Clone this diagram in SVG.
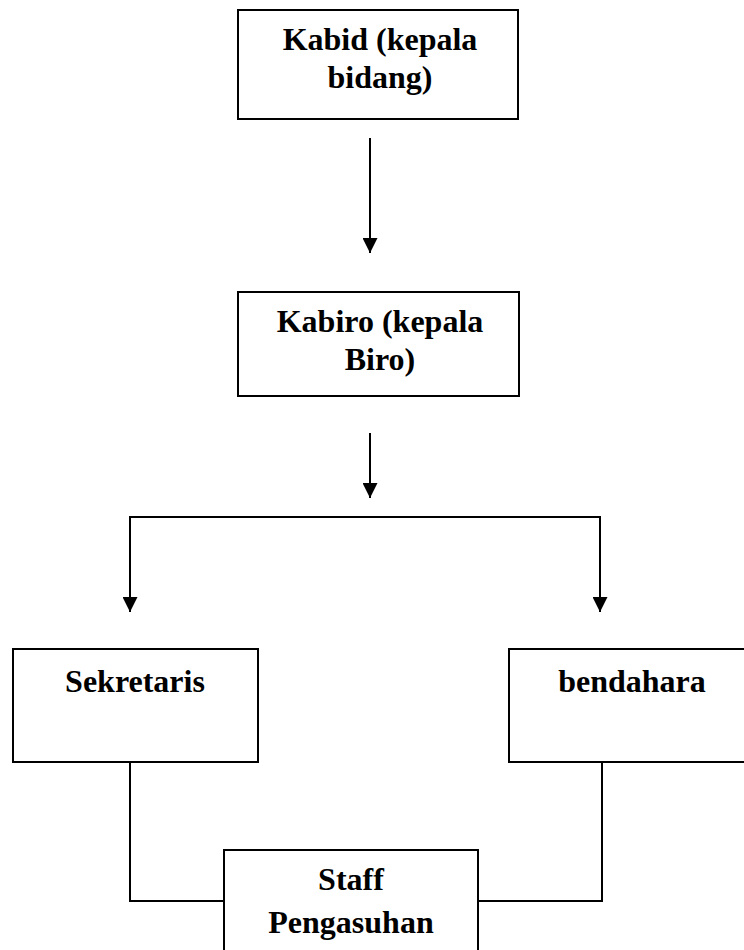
<svg xmlns="http://www.w3.org/2000/svg" width="744" height="950" viewBox="0 0 744 950">
<style>
.box{fill:#fff;stroke:#000;stroke-width:2}
.lbl{font-family:"Liberation Serif","Times New Roman",serif;font-weight:bold;font-size:32px;fill:#000;text-anchor:middle}
.con{fill:none;stroke:#000;stroke-width:2}
</style>
<defs>
<marker id="ah" markerUnits="userSpaceOnUse" markerWidth="15" markerHeight="15" viewBox="0 0 15 15" refX="15" refY="7.5" orient="auto">
<path d="M0,0 L15,7.5 L0,15 z" fill="#000"/>
</marker>
</defs>
<rect width="744" height="950" fill="#fff"/>
<g id="connectors">
<line class="con" x1="370" y1="138" x2="370" y2="253" marker-end="url(#ah)"/>
<line class="con" x1="370" y1="433" x2="370" y2="498" marker-end="url(#ah)"/>
<line class="con" x1="129" y1="517" x2="601" y2="517"/>
<line class="con" x1="130" y1="517" x2="130" y2="612" marker-end="url(#ah)"/>
<line class="con" x1="600" y1="517" x2="600" y2="612" marker-end="url(#ah)"/>
<polyline class="con" points="130,762 130,901 224,901"/>
<polyline class="con" points="602,762 602,901 478,901"/>
</g>
<g id="kabid">
<rect class="box" x="238" y="10" width="280" height="109"/>
<text class="lbl" x="380" y="50">Kabid (kepala</text>
<text class="lbl" x="380" y="88">bidang)</text>
</g>
<g id="kabiro">
<rect class="box" x="238" y="292" width="281" height="104"/>
<text class="lbl" x="380" y="332">Kabiro (kepala</text>
<text class="lbl" x="380" y="370">Biro)</text>
</g>
<g id="sekretaris">
<rect class="box" x="13" y="649" width="245" height="113"/>
<text class="lbl" x="135" y="692">Sekretaris</text>
</g>
<g id="bendahara">
<rect class="box" x="509" y="649" width="247" height="113"/>
<text class="lbl" x="632" y="692">bendahara</text>
</g>
<g id="staff">
<rect class="box" x="224" y="850" width="254" height="110"/>
<text class="lbl" x="351" y="890">Staff</text>
<text class="lbl" x="351" y="933">Pengasuhan</text>
</g>
</svg>
